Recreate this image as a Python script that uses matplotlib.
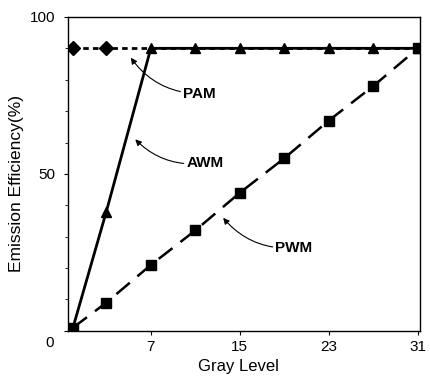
import numpy as np
import matplotlib.pyplot as plt

plt.rcParams['font.family'] = ['Liberation Sans', 'DejaVu Sans']

gray = [0, 3, 7, 11, 15, 19, 23, 27, 31]
pam = [90, 90, 90, 90, 90, 90, 90, 90, 90]
awm = [1, 38, 90, 90, 90, 90, 90, 90, 90]
pwm = [1, 9, 21, 32, 44, 55, 67, 78, 90]

fig = plt.figure(figsize=(4.3, 3.76), dpi=100)
ax = fig.add_axes([0.158, 0.12, 0.819, 0.835])

# PAM sits under AWM from gray level 7 upward, only its first diamonds show
ax.plot(gray, pam, color='black', lw=2, ls=(0, (2, 1.5)), marker='D',
        ms=7, markevery=[0, 1], zorder=2)
ax.plot(gray, awm, color='black', lw=2, marker='^', ms=7.5, zorder=3)
ax.plot(gray, pwm, color='black', lw=1.8, ls=(0, (7, 4)), marker='s',
        ms=7, zorder=4)

arrow = dict(arrowstyle='-|>', color='black', lw=0.8, mutation_scale=9,
             connectionstyle='arc3,rad=-0.25', shrinkA=0, shrinkB=0)
ax.annotate('PAM', xy=(5.2, 87), xytext=(9.9, 75.5), fontsize=11,
            fontweight='bold', va='center', arrowprops=arrow)
ax.annotate('AWM', xy=(5.6, 61), xytext=(10.2, 53.5), fontsize=11,
            fontweight='bold', va='center', arrowprops=arrow)
ax.annotate('PWM', xy=(13.5, 36), xytext=(18.2, 26.4), fontsize=11,
            fontweight='bold', va='center', arrowprops=arrow)

ax.set_xlim(-0.45, 31.2)
ax.set_ylim(0, 100)
ax.set_xticks([7, 15, 23, 31])
ax.set_yticks([0, 50, 100])
ax.set_yticks(np.arange(0, 101, 10), minor=True)
ax.tick_params(labelsize=11, length=3, width=0.8)
ax.tick_params(axis='y', pad=6)
ax.tick_params(which='minor', length=2, width=0.6)
ax.text(-0.04, -1.5, '0', transform=ax.get_yaxis_transform(), ha='right',
        va='top', fontsize=11)
ax.set_yticklabels(['', '50', '100'])
ax.set_xlabel('Gray Level', fontsize=12, x=0.485)
ax.set_ylabel('Emission Efficiency(%)', fontsize=12.5, y=0.47)
for side in ax.spines.values():
    side.set_linewidth(1.0)

plt.savefig('out.png')
plt.close()
